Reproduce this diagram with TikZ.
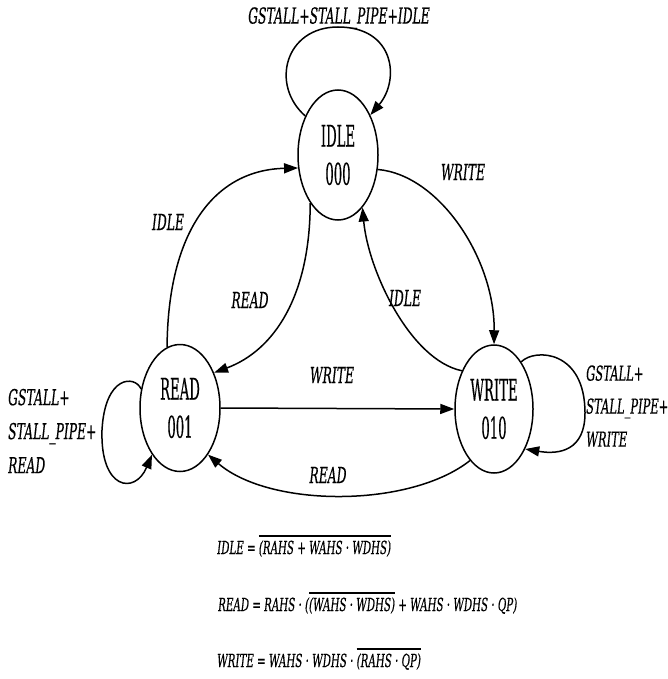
\documentclass[tikz,border=0pt]{standalone}
\usepackage{fontspec}
\usetikzlibrary{shapes.geometric,arrows.meta}
\newfontfamily\statefont[FakeStretch=0.44,FakeBold=0.4]{DejaVu Serif}
\newfontfamily\labfont[FakeStretch=0.56,FakeBold=0.4]{DejaVu Serif}
\newfontfamily\eqfont[FakeStretch=0.57,FakeBold=0.4]{DejaVu Serif}
% bar over a group of terms (complement)
\newcommand\ovbar[1]{\vbox{\hrule height 2pt\kern 3pt\hbox{#1}}}
\tikzset{
  state/.style={draw, ellipse, line width=1.5pt, inner sep=0pt,
    minimum width=80pt, minimum height=128pt, align=center,
    font=\statefont\fontsize{30}{38}\selectfont},
  trans/.style={line width=1.5pt, -{Triangle[length=14pt,width=10pt]}},
  lab/.style={font=\labfont\itshape\fontsize{22}{34}\selectfont, inner sep=0pt},
  eqn/.style={font=\eqfont\itshape\fontsize{18}{22}\selectfont, inner sep=0pt, anchor=base west}
}
\begin{document}
\begin{tikzpicture}[x=1pt,y=-1pt]
\fill[white] (0,0) rectangle (667,679);
\useasboundingbox (0,0) rectangle (667,679);

% states
\node[state, minimum height=130pt] (idle) at (338,155) {IDLE\\000};
\node[state, minimum height=127pt] (read) at (180,408) {READ\\001};
\node[state, minimum width=78pt] (write) at (494,409) {WRITE\\010};

% self loops
\draw[trans] (idle.130) .. controls (270,85) and (285,27) .. (338,27)
  .. controls (395,27) and (400,80) .. (idle.51);
\draw[trans] (read.154) .. controls (135,375) and (105,375) .. (102,430)
  .. controls (100,490) and (135,495) .. (read.239);
\draw[trans] (write.60) .. controls (535,348) and (585,350) .. (585,413)
  .. controls (585,450) and (560,455) .. (write.308);

% transitions between states
\draw[trans] (read.102) .. controls (168,230) and (215,170) .. (idle.198);
\draw[trans] (idle.240) .. controls (310,295) and (275,350) .. (read.46);
\draw[trans] (idle.340) .. controls (440,175) and (495,260) .. (write.90);
\draw[trans] (write.130) .. controls (410,360) and (368,270) .. (idle.295);
\draw[trans] (read.east) -- (write.west);
\draw[trans] (write.245) .. controls (410,508) and (270,508) .. (read.301);

% transition labels
\node[lab] (lidleloop) at (339,18) {GSTALL+STALL\_PIPE+IDLE};
\node[lab] (lri) at (168,222) {IDLE};
\node[lab] (lir) at (250,300) {READ};
\node[lab] (liw) at (463,172) {WRITE};
\node[lab] (lwi) at (405,298) {IDLE};
\node[lab] (lrw) at (332,375) {WRITE};
\node[lab] (lwr) at (328,475) {READ};
\node[lab, align=left, anchor=west] (lreadloop) at (8,431) {GSTALL+\\STALL\_PIPE+\\READ};
\node[lab, align=left, anchor=west, font=\labfont\itshape\fontsize{20.5}{33}\selectfont]
  (lwriteloop) at (586,406) {GSTALL+\\STALL\_PIPE+\\WRITE};

% output equations
\node[eqn] (eqidle) at (217,554) {IDLE = \ovbar{(RAHS + WAHS · WDHS)}};
\node[eqn] (eqread) at (218,611) {READ = RAHS · (\ovbar{(WAHS · WDHS)} + WAHS · WDHS · QP)};
\node[eqn] (eqwrite) at (217,667) {WRITE = WAHS · WDHS · \ovbar{(RAHS · QP)}};
\end{tikzpicture}
\end{document}
